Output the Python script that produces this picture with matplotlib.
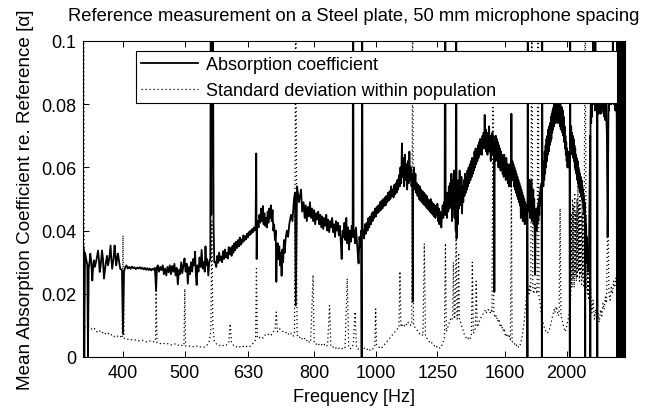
import matplotlib
matplotlib.use("Agg")
import matplotlib.pyplot as plt
from matplotlib.ticker import NullLocator

plt.rcParams['font.family'] = ['Liberation Sans', 'DejaVu Sans']

# ---------------- data ----------------
# mean absorption coefficient: (frequency Hz, value) pairs, one list per frequency band
mean_350_450 = [
    (346.0, 0.0360), (347.0, 0.0340), (347.6, 0.0), (348.5, 0.0330), (350.0, 0.0310), (351.5, 0.0290),
    (352.3, 0.0), (353.2, 0.0280), (354.3, 0.0300), (355.3, 0.0327), (356.5, 0.0300), (357.9, 0.0242),
    (359.0, 0.0290), (360.0, 0.0306), (361.0, 0.0285), (362.2, 0.0295), (363.5, 0.0310), (365.4, 0.0337),
    (366.5, 0.0310), (367.6, 0.0269), (369.0, 0.0290), (370.7, 0.0337), (372.0, 0.0310), (373.3, 0.0248),
    (374.5, 0.0270), (376.0, 0.0300), (377.5, 0.0320), (378.8, 0.0290), (380.5, 0.0310), (382.4, 0.0353),
    (383.5, 0.0310), (384.6, 0.0279), (386.5, 0.0310), (388.0, 0.0353), (389.0, 0.0330), (390.3, 0.0290),
    (391.5, 0.0310), (392.8, 0.0327), (394.5, 0.0300), (396.1, 0.0279), (398.5, 0.0275), (400.0, 0.0073),
    (401.5, 0.0270), (403, 0.0282), (405, 0.0290), (407, 0.0280), (409, 0.0285), (411, 0.0279),
    (413, 0.0286), (415, 0.0281), (417, 0.0284), (419, 0.0278), (421, 0.0283), (423, 0.0280),
    (425, 0.0284), (427, 0.0279), (429, 0.0283), (431, 0.0277), (433, 0.0282), (435, 0.0276),
    (437, 0.0281), (439, 0.0275), (441, 0.0280), (443, 0.0274), (445, 0.0279), (447, 0.0276),
    (449, 0.0282), (451, 0.0210), (452.5, 0.0285),
]
mean_450_560 = [
    (454, 0.0290), (456, 0.0270), (458, 0.0285), (460, 0.0275), (462, 0.0290), (464, 0.0262),
    (466, 0.0280), (468, 0.0258), (470, 0.0285), (472, 0.0268), (474, 0.0290), (476, 0.0262),
    (478, 0.0288), (480, 0.0270), (482, 0.0295), (484, 0.0258), (486, 0.0282), (488, 0.0230),
    (490, 0.0275), (492, 0.0262), (494, 0.0300), (496, 0.0265), (498, 0.0290), (500, 0.0312),
    (502, 0.0270), (504, 0.0295), (506, 0.0232), (508, 0.0285), (510, 0.0262), (512, 0.0300),
    (514, 0.0270), (516, 0.0310), (518, 0.0290), (519.5, 0.0333), (521, 0.0260), (522.5, 0.0228),
    (524, 0.0290), (526, 0.0270), (528, 0.0315), (530, 0.0285), (532, 0.0339), (534, 0.0280),
    (536, 0.0300), (538, 0.0270), (539.5, 0.0350), (541, 0.0290), (543, 0.0310), (545, 0.0258),
    (547, 0.0300), (549, 0.0310), (550, 0.1400), (551, 0.0450), (552, 0.1400), (553, 0.0600),
    (554, 0.1400), (555.5, 0.0420), (557, 0.0300),
]
mean_560_700 = [
    (559, 0.0300), (561, 0.0285), (563, 0.0320), (565, 0.0298), (567, 0.0330), (569, 0.0305),
    (571, 0.0318), (573, 0.0300), (575, 0.0335), (577, 0.0310), (579, 0.0340), (581, 0.0315),
    (583, 0.0330), (585, 0.0312), (587, 0.0348), (589, 0.0325), (591, 0.0345), (593, 0.0320),
    (595, 0.0352), (597, 0.0330), (599, 0.0360), (601, 0.0338), (603, 0.0365), (605, 0.0345),
    (607, 0.0370), (609, 0.0350), (611, 0.0378), (613, 0.0355), (615, 0.0372), (617, 0.0362),
    (619, 0.0385), (621, 0.0368), (623, 0.0382), (625, 0.0372), (627, 0.0390), (629, 0.0378),
    (631, 0.0395), (633, 0.0385), (635, 0.0400), (637, 0.0390), (639, 0.0405), (641, 0.0395),
    (643, 0.0410), (645, 0.0400), (647, 0.0415), (648.5, 0.0644), (649.5, 0.0310), (650.5, 0.0420),
    (652, 0.0430), (654, 0.0410), (656, 0.0450), (658, 0.0425), (660, 0.0470), (662, 0.0430),
    (664.5, 0.0478), (666, 0.0420), (668, 0.0455), (670, 0.0415), (672, 0.0440), (674, 0.0410),
    (676, 0.0460), (678, 0.0425), (680, 0.0470), (682, 0.0440), (684, 0.0480), (686, 0.0430),
    (688, 0.0465), (690, 0.0400), (692, 0.0420), (694, 0.0370), (696, 0.0400), (697.5, 0.0238),
]
mean_700_955 = [
    (699, 0.0330), (701, 0.0360), (703, 0.0310), (705, 0.0350), (707, 0.0290), (709, 0.0330),
    (711, 0.0257), (713, 0.0340), (715, 0.0300), (717, 0.0370), (719, 0.0330), (722, 0.0380),
    (725, 0.0400), (728, 0.0380), (731, 0.0420), (735.7, 0.0450), (739.6, 0.0430), (743.6, 0.0500),
    (746.5, 0.0520), (748.5, 0.0163), (751.9, 0.0540), (757.3, 0.0490), (762.9, 0.0530), (766, 0.0460),
    (770, 0.0490), (773, 0.0440), (776, 0.0480), (779, 0.0430), (782, 0.0475), (785, 0.0445),
    (788, 0.0490), (791, 0.0440), (794, 0.0470), (797, 0.0430), (800, 0.0465), (803, 0.0420),
    (806, 0.0455), (809, 0.0435), (812, 0.0460), (815, 0.0420), (818, 0.0450), (821, 0.0410),
    (824, 0.0445), (827, 0.0405), (830, 0.0440), (833, 0.0415), (836, 0.0450), (839, 0.0400),
    (842, 0.0435), (845, 0.0395), (848, 0.0430), (851, 0.0410), (854, 0.0440), (857, 0.0395),
    (860, 0.0420), (863, 0.0380), (866, 0.0430), (869, 0.0400), (872, 0.0425), (875, 0.0385),
    (878, 0.0415), (881, 0.0370), (884, 0.0310), (887, 0.0400), (890, 0.0380), (893, 0.0425),
    (896, 0.0370), (899, 0.0440), (902, 0.0360), (905, 0.0410), (908, 0.0340), (911, 0.0400),
    (914, 0.0365), (917, 0.0415), (920, 0.0380), (921.5, 0.1500), (923, 0.0380), (925, 0.0400),
    (928, 0.0360), (931, 0.0410), (934, 0.0370), (937, 0.0330), (940, 0.0296), (943, 0.0380),
    (946, 0.0350), (949, 0.0400), (950.5, 0.0), (952, 0.1500), (953.5, 0.0390),
]
mean_955_1290 = [
    (956, 0.0400), (959, 0.0375), (962, 0.0420), (965, 0.0390), (968, 0.0425), (971, 0.0400),
    (974, 0.0440), (977, 0.0410), (980, 0.0445), (983, 0.0420), (986, 0.0455), (989, 0.0430),
    (992, 0.0460), (995, 0.0440), (998, 0.0470), (1001, 0.0445), (1004, 0.0475), (1007, 0.0455),
    (1010, 0.0480), (1013, 0.0460), (1016, 0.0490), (1019, 0.0465), (1022, 0.0495), (1025, 0.0470),
    (1028, 0.0500), (1031, 0.0478), (1034, 0.0505), (1037, 0.0480), (1040, 0.0510), (1043, 0.0490),
    (1046, 0.0520), (1049, 0.0495), (1052, 0.0525), (1055, 0.0500), (1058, 0.0540), (1061, 0.0510),
    (1064, 0.0530), (1067, 0.0505), (1070, 0.0545), (1073, 0.0515), (1076, 0.0550), (1079, 0.0520),
    (1082, 0.0560), (1085, 0.0530), (1088, 0.0575), (1091, 0.0540), (1094, 0.0600), (1097, 0.0550),
    (1100, 0.0676), (1103, 0.0570), (1106, 0.0630), (1109, 0.0540), (1112, 0.0640), (1115, 0.0560),
    (1118, 0.0610), (1121, 0.0530), (1124, 0.0620), (1127, 0.0550), (1130, 0.0650), (1133, 0.0560),
    (1136, 0.0600), (1139, 0.0540), (1142, 0.0580), (1144, 0.0175), (1146, 0.0560), (1149, 0.0600),
    (1152, 0.0530), (1155, 0.0580), (1158, 0.0520), (1161, 0.0550), (1164, 0.0510), (1167, 0.0545),
    (1170, 0.0500), (1173, 0.0540), (1176, 0.0495), (1179, 0.0530), (1182, 0.0490), (1185, 0.0525),
    (1188, 0.0485), (1191, 0.0520), (1194, 0.0480), (1197, 0.0515), (1200, 0.0475), (1203, 0.0510),
    (1206, 0.0470), (1209, 0.0500), (1212, 0.0465), (1215, 0.0495), (1218, 0.0460), (1221, 0.0500),
    (1224, 0.0455), (1227, 0.0490), (1230, 0.0450), (1233, 0.0485), (1236, 0.0445), (1239, 0.0480),
    (1242, 0.0440), (1245, 0.0475), (1248, 0.0450), (1251, 0.0485), (1254, 0.0430), (1257, 0.0470),
    (1260, 0.0420), (1263, 0.0460), (1266, 0.0430), (1269, 0.0410), (1272, 0.0455), (1275, 0.0480),
    (1278, 0.0440), (1281, 0.0490), (1284, 0.0450), (1287, 0.1500), (1289, 0.0450),
]
mean_1290_1640 = [
    (1292, 0.0500), (1295, 0.0440), (1298, 0.0520), (1301, 0.0460), (1304, 0.0540), (1307, 0.0470),
    (1310, 0.0550), (1313, 0.0480), (1316, 0.0580), (1319, 0.0430), (1322, 0.0560), (1325, 0.0470),
    (1328, 0.0590), (1331, 0.0440), (1334, 0.0560), (1337, 0.0400), (1339, 0.1500), (1341, 0.0375),
    (1344, 0.0500), (1347, 0.0420), (1350, 0.0560), (1353, 0.0470), (1356, 0.0590), (1359, 0.0480),
    (1362, 0.0520), (1365, 0.0570), (1368, 0.0454), (1371, 0.0540), (1374, 0.0490), (1377, 0.0560),
    (1380, 0.0510), (1383, 0.0580), (1386, 0.0520), (1389, 0.0570), (1392, 0.0530), (1395, 0.0590),
    (1398, 0.0540), (1401, 0.0600), (1404, 0.0550), (1407, 0.0610), (1410, 0.0560), (1413, 0.0620),
    (1416, 0.0570), (1419, 0.0630), (1422, 0.0580), (1425, 0.0620), (1428, 0.0590), (1431, 0.0650),
    (1434, 0.0600), (1437, 0.0660), (1440, 0.0610), (1443, 0.0650), (1446, 0.0620), (1449, 0.0670),
    (1452, 0.0630), (1455, 0.0680), (1458, 0.0640), (1461, 0.0690), (1464, 0.0650), (1467, 0.0680),
    (1470, 0.0640), (1473, 0.0700), (1476, 0.0660), (1479, 0.0710), (1482, 0.0660), (1485, 0.0766),
    (1488, 0.0660), (1491, 0.0720), (1494, 0.0650), (1497, 0.0700), (1500, 0.0640), (1503, 0.0710),
    (1506, 0.0660), (1509, 0.0730), (1512, 0.0650), (1515, 0.0700), (1518, 0.0620), (1521, 0.0690),
    (1524, 0.0640), (1527, 0.0710), (1530, 0.0660), (1533, 0.0700), (1536, 0.0640), (1538, 0.0206),
    (1540, 0.0680), (1543, 0.0620), (1546, 0.0700), (1549, 0.0640), (1552, 0.0690), (1555, 0.0620),
    (1558, 0.0680), (1561, 0.0600), (1564, 0.0670), (1567, 0.0610), (1570, 0.0660), (1573, 0.0590),
    (1576, 0.0650), (1579, 0.0600), (1582, 0.0640), (1585, 0.0580), (1588, 0.0630), (1591, 0.0570),
    (1594, 0.0640), (1597, 0.0580), (1600, 0.0620), (1603, 0.0560), (1606, 0.0630), (1609, 0.0570),
    (1612, 0.0610), (1615, 0.0550), (1618, 0.0600), (1621, 0.0540), (1624, 0.0610), (1627, 0.0560),
    (1630, 0.0590), (1633, 0.0540), (1636, 0.0770), (1639, 0.0560),
]
mean_1640_2030 = [
    (1642, 0.0620), (1645, 0.0560), (1648, 0.0610), (1651, 0.0540), (1654, 0.0600), (1657, 0.0530),
    (1660, 0.0590), (1663, 0.0520), (1666, 0.0580), (1669, 0.0510), (1672, 0.0570), (1675, 0.0500),
    (1678, 0.0560), (1681, 0.0490), (1684, 0.0550), (1687, 0.0480), (1690, 0.0540), (1693, 0.0440),
    (1696, 0.0530), (1699, 0.0470), (1702, 0.0520), (1705, 0.0430), (1708, 0.0510), (1711, 0.0460),
    (1714, 0.0500), (1717, 0.0420), (1720, 0.0490), (1723, 0.0450), (1726, 0.0480), (1729, 0.0440),
    (1732, 0.0470), (1734, 0.0), (1736, 0.1500), (1738, 0.0500), (1741, 0.0560), (1744, 0.0460),
    (1747, 0.0560), (1750, 0.0440), (1753, 0.0540), (1756, 0.0460), (1759, 0.0560), (1762, 0.0430),
    (1765, 0.0520), (1768, 0.0460), (1771, 0.0530), (1774, 0.0420), (1777, 0.0500), (1780, 0.0400),
    (1783, 0.0260), (1786, 0.0420), (1789, 0.0470), (1792, 0.0400), (1795, 0.0460), (1798, 0.0420),
    (1801, 0.0480), (1804, 0.0430), (1807, 0.0500), (1810, 0.0450), (1813, 0.0520), (1816, 0.0480),
    (1819, 0.0540), (1822, 0.0500), (1825, 0.0550), (1827, 0.0), (1829, 0.1500), (1831, 0.0540),
    (1834, 0.0600), (1837, 0.0540), (1840, 0.0620), (1843, 0.0560), (1846, 0.0650), (1849, 0.0580),
    (1852, 0.0670), (1855, 0.0600), (1858, 0.0690), (1861, 0.0620), (1864, 0.0700), (1867, 0.0640),
    (1870, 0.0720), (1873, 0.0650), (1876, 0.0730), (1879, 0.0670), (1882, 0.0740), (1885, 0.0680),
    (1888, 0.0760), (1891, 0.0690), (1894, 0.0770), (1897, 0.0710), (1900, 0.0780), (1903, 0.0720),
    (1906, 0.0790), (1909, 0.0730), (1912, 0.0800), (1915, 0.0740), (1918, 0.0800), (1921, 0.0740),
    (1924, 0.0810), (1927, 0.0750), (1930, 0.0810), (1933, 0.0750), (1936, 0.0800), (1939, 0.0740),
    (1942, 0.0810), (1945, 0.0740), (1948, 0.0800), (1951, 0.0730), (1954, 0.0800), (1957, 0.0720),
    (1960, 0.0790), (1963, 0.0720), (1966, 0.0790), (1969, 0.0710), (1972, 0.0780), (1975, 0.0700),
    (1978, 0.0760), (1981, 0.0680), (1984, 0.0730), (1987, 0.0660), (1990, 0.0700), (1993, 0.0640),
    (1996, 0.0680), (1999, 0.0620), (2002, 0.0660), (2005, 0.0600), (2008, 0.0650), (2011, 0.0600),
    (2014, 0.0640), (2017, 0.0600), (2020, 0.0650), (2022, 0.0), (2024, 0.1500), (2026, 0.0720),
]
mean_2030_2470 = [
    (2029, 0.0680), (2032, 0.0730), (2035, 0.0660), (2038, 0.0710), (2041, 0.0640), (2044, 0.0700),
    (2047, 0.0630), (2050, 0.0690), (2053, 0.0620), (2056, 0.0670), (2059, 0.0600), (2062, 0.0660),
    (2065, 0.0590), (2068, 0.0640), (2071, 0.0580), (2074, 0.0630), (2077, 0.0560), (2080, 0.0620),
    (2083, 0.0550), (2086, 0.0600), (2089, 0.0540), (2092, 0.0590), (2095, 0.0530), (2098, 0.0580),
    (2101, 0.0520), (2104, 0.0570), (2107, 0.0510), (2110, 0.0560), (2113, 0.0500), (2116, 0.0540),
    (2119, 0.0490), (2122, 0.0530), (2125, 0.0470), (2128, 0.0510), (2131, 0.0450), (2134, 0.0490),
    (2136.5, 0.0420), (2138, 0.0), (2139.5, 0.0450), (2142, 0.0380), (2145, 0.0420), (2148, 0.0340),
    (2151, 0.0380), (2154, 0.0300), (2157, 0.0350), (2160, 0.0270), (2163, 0.0320), (2166, 0.0280),
    (2169, 0.0400), (2172, 0.0550), (2175, 0.0650), (2177, 0.0700), (2178, 0.0), (2179.5, 0.0750),
    (2182, 0.0800), (2185, 0.0740), (2188, 0.0830), (2191, 0.0760), (2194, 0.0900), (2197, 0.0800),
    (2200, 0.1050), (2203, 0.0850), (2206, 0.1100), (2209, 0.0800), (2212, 0.0950), (2215, 0.0780),
    (2218, 0.1050), (2221, 0.0820), (2224, 0.0900), (2227, 0.0780), (2230, 0.0880), (2232.5, 0.0800),
    (2234, 0.0), (2235.5, 0.0850), (2238, 0.0780), (2241, 0.0880), (2244, 0.0770), (2247, 0.0900),
    (2250, 0.0780), (2253, 0.0920), (2256, 0.0800), (2259, 0.0870), (2262, 0.0770), (2265, 0.0900),
    (2268, 0.0790), (2271, 0.0860), (2274, 0.0800), (2277, 0.0920), (2280, 0.0780), (2283, 0.0880),
    (2286, 0.0770), (2289, 0.0860), (2292, 0.0760), (2295, 0.0850), (2298, 0.0750), (2301, 0.0840),
    (2304, 0.0760), (2307, 0.0830), (2310, 0.0740), (2313, 0.0700), (2316, 0.0550), (2319, 0.0380),
    (2322, 0.0480), (2325, 0.0720), (2328, 0.0850), (2331, 0.0780), (2334, 0.0900), (2337, 0.0800),
    (2340, 0.0950), (2343, 0.0820), (2346, 0.0880), (2349, 0.0800), (2352, 0.0920), (2355, 0.0830),
    (2358, 0.0950), (2361, 0.0850), (2364, 0.1050), (2367, 0.0880), (2370, 0.0900), (2373, 0.0800),
    (2376, 0.0950), (2379, 0.0820), (2382, 0.0880), (2385, 0.0780), (2388, 0.0900), (2391, 0.0800),
    (2394, 0.0850), (2397, 0.0750), (2399, 0.0), (2402, 0.1500), (2404, 0.0), (2407, 0.1500),
    (2410, 0.0), (2413, 0.1500), (2416, 0.0800), (2420, 0.0850), (2425, 0.0780), (2430, 0.0),
    (2433, 0.1500), (2436, 0.0), (2439, 0.1500), (2442, 0.0), (2445, 0.1500), (2448, 0.0),
    (2451, 0.1500), (2454, 0.0), (2457, 0.1500), (2460, 0.0), (2463, 0.1500), (2466, 0.0),
    (2469, 0.1500),
]

# standard deviation within population: (frequency Hz, value) pairs
std_350_700 = [
    (346.0, 0.0100), (346.8, 0.1200), (347.6, 0.0095), (350, 0.0092), (355, 0.0095), (358, 0.0085),
    (361, 0.0090), (364, 0.0080), (367, 0.0085), (370, 0.0075), (373, 0.0080), (376, 0.0072),
    (379, 0.0076), (382, 0.0068), (385, 0.0072), (388, 0.0064), (391, 0.0068), (394, 0.0062),
    (397, 0.0065), (399, 0.0060), (400, 0.0385), (401.5, 0.0060), (405, 0.0055), (410, 0.0058),
    (415, 0.0052), (420, 0.0055), (425, 0.0050), (430, 0.0053), (435, 0.0048), (440, 0.0052),
    (445, 0.0047), (450, 0.0050), (451, 0.0216), (452.5, 0.0045), (457, 0.0042), (462, 0.0045),
    (467, 0.0040), (472, 0.0043), (477, 0.0038), (482, 0.0042), (487, 0.0036), (492, 0.0040),
    (497, 0.0035), (499, 0.0038), (500.5, 0.0216), (502, 0.0035), (507, 0.0033), (512, 0.0036),
    (517, 0.0032), (522, 0.0035), (527, 0.0030), (532, 0.0034), (537, 0.0031), (542, 0.0036),
    (547, 0.0050), (550, 0.0080), (552, 0.0430), (554, 0.0100), (557, 0.0050), (562, 0.0040),
    (567, 0.0036), (572, 0.0040), (577, 0.0034), (582, 0.0038), (587, 0.0045), (590, 0.0105),
    (593, 0.0045), (598, 0.0035), (603, 0.0032), (608, 0.0036), (613, 0.0030), (618, 0.0034),
    (623, 0.0030), (628, 0.0035), (633, 0.0032), (638, 0.0040), (643, 0.0045), (647, 0.0055),
    (649, 0.0280), (651, 0.0060), (655, 0.0060), (660, 0.0065), (665, 0.0060), (670, 0.0070),
    (675, 0.0068), (680, 0.0075), (685, 0.0070), (690, 0.0080), (694, 0.0085), (697.5, 0.0142),
]
std_700_1300 = [
    (700, 0.0080), (705, 0.0090), (710, 0.0085), (715, 0.0080), (720, 0.0075), (725, 0.0080),
    (730, 0.0070), (735, 0.0075), (740, 0.0065), (745, 0.0070), (748.5, 0.1200), (752, 0.0070),
    (757, 0.0060), (762, 0.0065), (767, 0.0055), (772, 0.0060), (777, 0.0050), (782, 0.0055),
    (787, 0.0045), (790, 0.0050), (797, 0.0260), (800, 0.0045), (805, 0.0040), (810, 0.0045),
    (815, 0.0038), (820, 0.0042), (825, 0.0035), (830, 0.0040), (835, 0.0033), (840, 0.0038),
    (846, 0.0163), (850, 0.0035), (855, 0.0030), (860, 0.0034), (865, 0.0028), (870, 0.0032),
    (875, 0.0027), (880, 0.0030), (885, 0.0026), (890, 0.0032), (895, 0.0030), (902, 0.0248),
    (907, 0.0030), (912, 0.0026), (917, 0.0030), (922, 0.0040), (928, 0.0143), (933, 0.0030),
    (938, 0.0025), (943, 0.0028), (948, 0.0032), (952, 0.0035), (957, 0.0030), (962, 0.0025),
    (967, 0.0022), (972, 0.0026), (977, 0.0020), (982, 0.0024), (987, 0.0022), (992, 0.0028),
    (997, 0.0035), (1000, 0.0152), (1003, 0.0040), (1008, 0.0035), (1013, 0.0030), (1018, 0.0034),
    (1023, 0.0030), (1028, 0.0036), (1033, 0.0040), (1038, 0.0045), (1043, 0.0050), (1048, 0.0055),
    (1053, 0.0060), (1058, 0.0065), (1063, 0.0070), (1068, 0.0075), (1073, 0.0080), (1078, 0.0085),
    (1083, 0.0090), (1088, 0.0092), (1092, 0.0271), (1096, 0.0095), (1101, 0.0100), (1106, 0.0105),
    (1111, 0.0098), (1116, 0.0105), (1121, 0.0100), (1126, 0.0110), (1131, 0.0105), (1136, 0.0100),
    (1140, 0.0110), (1143.5, 0.1200), (1147, 0.0100), (1152, 0.0095), (1157, 0.0090), (1162, 0.0085),
    (1167, 0.0080), (1172, 0.0075), (1177, 0.0070), (1182, 0.0072), (1187, 0.0068), (1193, 0.0359),
    (1198, 0.0065), (1203, 0.0060), (1208, 0.0055), (1213, 0.0050), (1218, 0.0045), (1223, 0.0048),
    (1228, 0.0042), (1233, 0.0040), (1238, 0.0035), (1243, 0.0038), (1248, 0.0032), (1253, 0.0035),
    (1258, 0.0030), (1263, 0.0028), (1268, 0.0032), (1273, 0.0040), (1278, 0.0050), (1283, 0.0060),
    (1288, 0.0360), (1292, 0.0080), (1297, 0.0090),
]
std_1300_1850 = [
    (1302, 0.0100), (1307, 0.0110), (1312, 0.0120), (1317, 0.0115), (1322, 0.0125), (1326, 0.0300),
    (1330, 0.0120), (1334, 0.0130), (1339, 0.0420), (1343, 0.0120), (1347, 0.0125), (1351, 0.0330),
    (1355, 0.0115), (1360, 0.0110), (1365, 0.0100), (1370, 0.0090), (1375, 0.0080), (1380, 0.0070),
    (1385, 0.0065), (1390, 0.0060), (1395, 0.0055), (1400, 0.0060), (1405, 0.0055), (1410, 0.0060),
    (1415, 0.0070), (1420, 0.0300), (1425, 0.0075), (1430, 0.0080), (1435, 0.0090), (1440, 0.0240),
    (1445, 0.0095), (1450, 0.0100), (1455, 0.0110), (1460, 0.0120), (1465, 0.0125), (1470, 0.0130),
    (1475, 0.0135), (1480, 0.0140), (1485, 0.0145), (1490, 0.0150), (1495, 0.0140), (1500, 0.0145),
    (1505, 0.0150), (1510, 0.0145), (1515, 0.0140), (1520, 0.0150), (1525, 0.0140), (1530, 0.0790),
    (1535, 0.0140), (1540, 0.0130), (1545, 0.0135), (1550, 0.0120), (1555, 0.0125), (1560, 0.0110),
    (1565, 0.0115), (1570, 0.0100), (1575, 0.0105), (1580, 0.0090), (1585, 0.0095), (1590, 0.0080),
    (1595, 0.0085), (1600, 0.0070), (1605, 0.0075), (1610, 0.0065), (1615, 0.0070), (1620, 0.0060),
    (1625, 0.0065), (1630, 0.0055), (1636, 0.0565), (1640, 0.0050), (1645, 0.0045), (1650, 0.0040),
    (1655, 0.0042), (1660, 0.0035), (1665, 0.0038), (1670, 0.0032), (1675, 0.0035), (1680, 0.0030),
    (1685, 0.0035), (1690, 0.0040), (1695, 0.0050), (1700, 0.0060), (1705, 0.0080), (1710, 0.0100),
    (1715, 0.0120), (1720, 0.0150), (1725, 0.0180), (1730, 0.0200), (1735, 0.0210), (1740, 0.0220),
    (1745, 0.0200), (1750, 0.0230), (1755, 0.0210), (1762, 0.1200), (1768, 0.0220), (1775, 0.0200),
    (1782, 0.0230), (1790, 0.0210), (1796, 0.0200), (1802, 0.1200), (1808, 0.0190), (1815, 0.0170),
    (1820, 0.0150), (1825, 0.0130), (1830, 0.0120), (1835, 0.0110), (1840, 0.0100), (1845, 0.0090),
]
std_1850_2470 = [
    (1850, 0.0085), (1855, 0.0080), (1860, 0.0078), (1865, 0.0075), (1870, 0.0080), (1875, 0.0085),
    (1880, 0.0090), (1885, 0.0100), (1890, 0.0110), (1895, 0.0120), (1900, 0.0130), (1905, 0.0140),
    (1910, 0.0150), (1915, 0.0140), (1920, 0.0150), (1925, 0.0160), (1930, 0.0150), (1935, 0.0140),
    (1940, 0.0130), (1945, 0.0140), (1952, 0.0470), (1958, 0.0130), (1965, 0.0120), (1970, 0.0110),
    (1975, 0.0100), (1980, 0.0090), (1985, 0.0085), (1990, 0.0080), (1995, 0.0090), (2000, 0.0100),
    (2005, 0.0110), (2010, 0.0120), (2015, 0.0130), (2020, 0.0150), (2025, 0.0160), (2030, 0.0200),
    (2034, 0.0450), (2038, 0.0220), (2042, 0.0500), (2046, 0.0250), (2050, 0.0480), (2054, 0.0220),
    (2058, 0.0520), (2062, 0.0260), (2066, 0.0460), (2070, 0.0240), (2074, 0.0500), (2078, 0.0250),
    (2082, 0.0550), (2086, 0.0270), (2090, 0.0480), (2094, 0.0240), (2098, 0.0520), (2102, 0.0260),
    (2106, 0.0450), (2110, 0.0230), (2114, 0.0500), (2118, 0.0250), (2122, 0.0460), (2126, 0.0220),
    (2130, 0.0400), (2138, 0.1200), (2145, 0.0220), (2150, 0.0350), (2155, 0.0200), (2160, 0.0300),
    (2165, 0.0180), (2170, 0.0280), (2175, 0.0160), (2180, 0.0220), (2190, 0.0140), (2200, 0.0180),
    (2210, 0.0120), (2220, 0.0150), (2230, 0.0110), (2240, 0.0140), (2250, 0.0110), (2260, 0.0150),
    (2270, 0.0130), (2280, 0.0170), (2290, 0.0150), (2300, 0.0190), (2310, 0.0170), (2322, 0.0500),
    (2330, 0.0200), (2340, 0.0180), (2350, 0.0220), (2360, 0.0200), (2370, 0.0240), (2380, 0.0220),
    (2390, 0.0250), (2400, 0.0230), (2410, 0.0620), (2420, 0.0300), (2430, 0.0400), (2440, 0.0600),
    (2450, 0.0800), (2460, 0.1200), (2470, 0.1200),
]

xtick_values = [400, 500, 630, 800, 1000, 1250, 1600, 2000]
xtick_labels = ['400', '500', '630', '800', '1000', '1250', '1600', '2000']
ytick_values = [0, 0.02, 0.04, 0.06, 0.08, 0.1]
ytick_labels = ['0', '0.02', '0.04', '0.06', '0.08', '0.1']
series_labels = ['Absorption coefficient', 'Standard deviation within population']

mean_points = (mean_350_450 + mean_450_560 + mean_560_700 + mean_700_955
               + mean_955_1290 + mean_1290_1640 + mean_1640_2030 + mean_2030_2470)
std_points = std_350_700 + std_700_1300 + std_1300_1850 + std_1850_2470
freq_mean = [p[0] for p in mean_points]
alpha_mean = [p[1] for p in mean_points]
freq_std = [p[0] for p in std_points]
std_dev = [p[1] for p in std_points]

# ---------------- figure ----------------
fig = plt.figure(figsize=(6.46, 4.10), dpi=100)
ax = fig.add_axes([83 / 646, 52 / 410, 542 / 646, 316 / 410])

ax.plot(freq_mean, alpha_mean, color='black', lw=1.3, label=series_labels[0])
ax.plot(freq_std, std_dev, color='black', lw=0.9, linestyle=(0, (1, 2.2)), label=series_labels[1])

ax.set_xscale('log')
ax.set_xlim(346, 2470)
ax.set_ylim(0, 0.1)
ax.set_xticks(xtick_values)
ax.set_xticklabels(xtick_labels)
ax.xaxis.set_minor_locator(NullLocator())
ax.set_yticks(ytick_values)
ax.set_yticklabels(ytick_labels)

fs = 13
ax.tick_params(axis='both', which='major', direction='in', length=4, width=0.7,
               top=True, right=True, labelsize=fs, pad=5)
for s in ax.spines.values():
    s.set_linewidth(0.8)

ax.set_xlabel('Frequency [Hz]', fontsize=fs, labelpad=5)
ax.set_ylabel('Mean Absorption Coefficient re. Reference [\u03b1]', fontsize=13.6, labelpad=5)
ax.set_title('Reference measurement on a Steel plate, 50 mm microphone spacing', fontsize=13.2, pad=15)

leg = ax.legend(loc='upper left', bbox_to_anchor=(0.098, 0.30, 0.887, 0.667), mode='expand',
                fontsize=fs, frameon=True, fancybox=False, framealpha=1, edgecolor='black',
                handlelength=3.2, handletextpad=0.4, labelspacing=0.5, borderpad=0.25,
                borderaxespad=0)
leg.get_frame().set_linewidth(0.8)

fig.savefig('out.png', dpi=100)
